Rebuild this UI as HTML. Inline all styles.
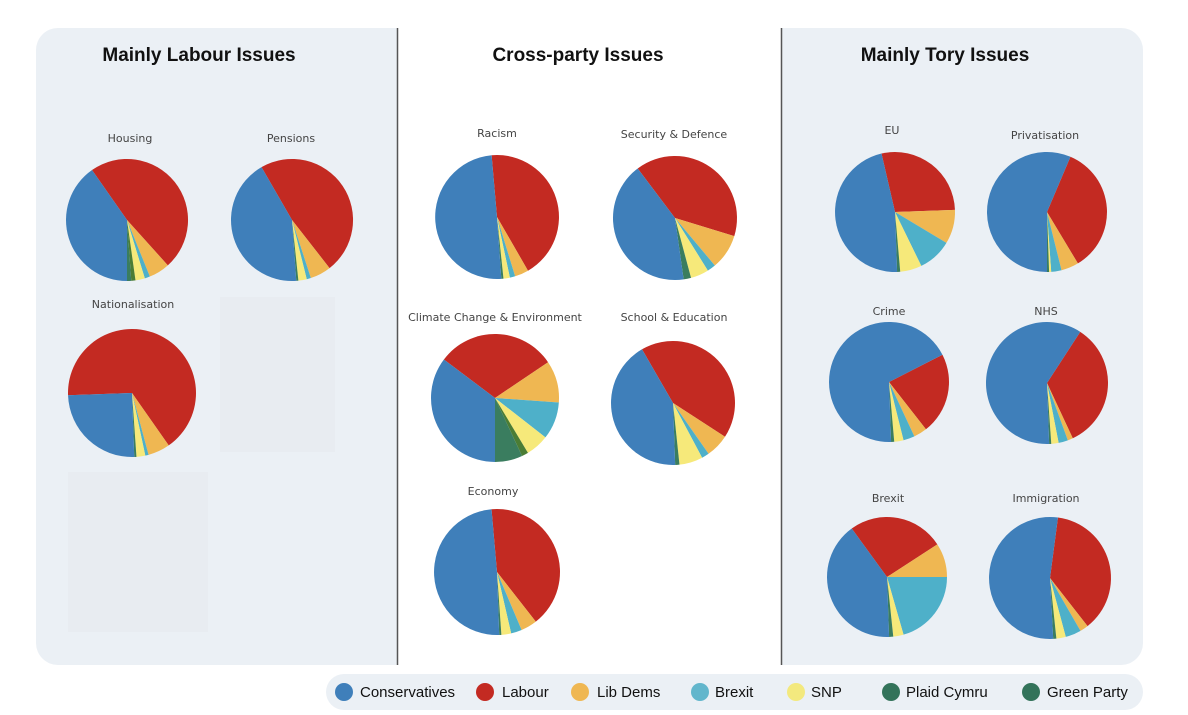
<!DOCTYPE html>
<html><head><meta charset="utf-8">
<style>
body{margin:0;background:#fff;width:1188px;height:715px;overflow:hidden;font-family:"Liberation Sans",sans-serif}
svg{position:absolute;left:0;top:0}
</style></head><body>
<svg id="s" width="1188" height="715" viewBox="0 0 1188 715">
<rect x="36" y="28" width="1107" height="637" rx="22" fill="#ebf0f5"/>
<rect x="398" y="28" width="383" height="637" fill="#fff"/>
<rect x="220" y="297" width="115" height="155" fill="#e8ecf1"/>
<rect x="68" y="472" width="140" height="160" fill="#e8ecf1"/>
<line x1="397.5" y1="28" x2="397.5" y2="665" stroke="#555" stroke-width="1.5"/>
<line x1="781.5" y1="28" x2="781.5" y2="665" stroke="#555" stroke-width="1.5"/>
<g font-weight="bold" font-size="19" fill="#111" text-anchor="middle">
<text x="199" y="61">Mainly Labour Issues</text>
<text x="578" y="61">Cross-party Issues</text>
<text x="945" y="61">Mainly Tory Issues</text>
</g>
<g font-family="DejaVu Sans, sans-serif" font-size="11" fill="#444" text-anchor="middle">
<text x="130" y="142">Housing</text>
<text x="291" y="142">Pensions</text>
<text x="133" y="308">Nationalisation</text>
<text x="497" y="137">Racism</text>
<text x="674" y="138">Security &amp; Defence</text>
<text x="495" y="321">Climate  Change &amp;  Environment</text>
<text x="674" y="321">School &amp; Education</text>
<text x="493" y="495">Economy</text>
<text x="892" y="134">EU</text>
<text x="1045" y="139">Privatisation</text>
<text x="889" y="315">Crime</text>
<text x="1046" y="315">NHS</text>
<text x="888" y="502">Brexit</text>
<text x="1046" y="502">Immigration</text>
</g>
<g id="pies"></g>
<rect x="326" y="674" width="817" height="36" rx="18" fill="#ebf0f5"/>
<g font-size="15" fill="#111">
<circle cx="344" cy="692" r="9" fill="#3f7fba"/><text x="360" y="697">Conservatives</text>
<circle cx="485" cy="692" r="9" fill="#c32a22"/><text x="502" y="697">Labour</text>
<circle cx="580" cy="692" r="9" fill="#efb752"/><text x="597" y="697">Lib Dems</text>
<circle cx="700" cy="692" r="9" fill="#62b6cc"/><text x="715" y="697">Brexit</text>
<circle cx="796" cy="692" r="9" fill="#f3e97e"/><text x="811" y="697">SNP</text>
<circle cx="891" cy="692" r="9" fill="#33735a"/><text x="906" y="697">Plaid Cymru</text>
<circle cx="1031" cy="692" r="9" fill="#33735a"/><text x="1047" y="697">Green Party</text>
</g>
</svg>
<script>
var C={c:"#3f7fba",l:"#c32a22",d:"#efb752",b:"#4eb0c9",s:"#f6e97a",p:"#4b7d35",g:"#3a7d5f"};
var P=[
[127,220,61,-35,["l",138],["d",158],["b",163],["s",172],["p",176],["g",180],["c",325]],
[292,220,61,-30,["l",142],["d",162],["b",166],["s",174],["g",176],["c",330]],
[132,393,64,-92,["l",145],["d",165],["b",168],["s",176],["g",178],["c",268]],
[497,217,62,-5,["l",150],["d",163],["b",168],["s",174],["g",176],["c",355]],
[675,218,62,-37,["l",107],["d",140],["b",148],["s",165],["g",172],["c",323]],
[495,398,64,-53,["l",56],["d",94],["b",128],["s",149],["p",155],["g",180],["c",307]],
[673,403,62,-30,["l",123],["d",145],["b",152],["s",174],["g",178],["c",330]],
[497,572,63,-5,["l",142],["d",157],["b",167],["s",176],["g",178],["c",355]],
[895,212,60,-13,["l",88],["d",121],["b",154],["s",175],["g",178],["c",347]],
[1047,212,60,23,["l",149],["d",166],["b",176],["s",178],["g",180],["c",383]],
[889,382,60,63,["l",142],["d",155],["b",166],["s",175],["g",178],["c",423]],
[1047,383,61,33,["l",155],["d",160],["b",169],["s",176],["g",178],["c",393]],
[887,577,60,-36,["l",57],["d",90],["b",164],["s",174],["g",178],["c",324]],
[1050,578,61,7.5,["l",142],["d",150],["b",165],["s",174],["g",177],["c",367.5]]
];
var h="";
P.forEach(function(p){
 var cx=p[0],cy=p[1],r=p[2],a=p[3];
 for(var i=4;i<p.length;i++){
  var col=C[p[i][0]],e=p[i][1];
  var x1=cx+r*Math.sin(a*Math.PI/180),y1=cy-r*Math.cos(a*Math.PI/180);
  var x2=cx+r*Math.sin(e*Math.PI/180),y2=cy-r*Math.cos(e*Math.PI/180);
  var la=(e-a)>180?1:0;
  h+='<path d="M'+cx+','+cy+'L'+x1.toFixed(2)+','+y1.toFixed(2)+'A'+r+','+r+' 0 '+la+' 1 '+x2.toFixed(2)+','+y2.toFixed(2)+'Z" fill="'+col+'"/>';
  a=e;
 }
});
document.getElementById("pies").innerHTML=h;
</script>
</body></html>
